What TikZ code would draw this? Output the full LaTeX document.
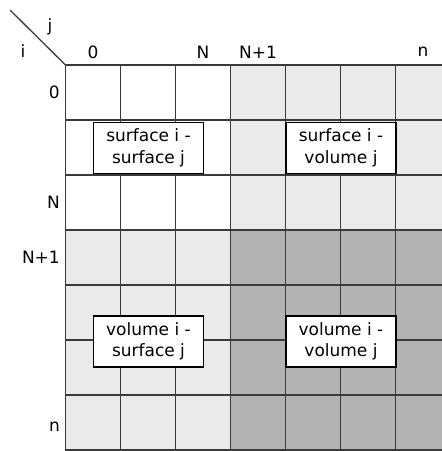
\documentclass[tikz,border=0pt]{standalone}
\usepackage{fontspec}
\setmainfont{DejaVu Sans}
\definecolor{lightcell}{HTML}{EAEAEA}
\definecolor{darkcell}{HTML}{B3B3B3}
\definecolor{gridline}{HTML}{3A3A3A}
\tikzset{
  gridstroke/.style={draw=gridline, line width=1.3pt},
  blocklabel/.style={draw=black, fill=white, line width=1.2pt, align=center,
    minimum width=110pt, minimum height=51pt, inner sep=2pt,
    font=\fontsize{17}{21.5}\selectfont},
  idxlabel/.style={font=\fontsize{17}{20}\selectfont, inner sep=0pt},
}
\begin{document}
\begin{tikzpicture}[x=1pt, y=-1pt]
  \useasboundingbox (0,0) rectangle (442,451);
  \begin{scope}
    \clip (0,0) rectangle (442,451);
    % the four blocks of the matrix
    \fill[white]     (65.5,65) rectangle (230.5,230);
    \fill[lightcell] (230.5,65) rectangle (450.5,230);
    \fill[lightcell] (65.5,230) rectangle (230.5,450);
    \fill[darkcell]  (230.5,230) rectangle (450.5,450);
    % cell grid
    \foreach \k in {0,...,7} {
      \draw[gridstroke] (65.5+55*\k,65) -- (65.5+55*\k,451);
      \draw[gridstroke] (65.5,65+55*\k) -- (451,65+55*\k);
    }
  \end{scope}
  % corner header
  \coordinate (diagstart) at (10,10);
  \coordinate (corner) at (65.5,65);
  \draw[line width=1.3pt, draw=gridline] (diagstart) -- (corner);
  \node[idxlabel] (jhead) at (50,27) {j};
  \node[idxlabel] (ihead) at (23,51) {i};
  % column indices
  \node[idxlabel] (c0)  at (93,52)    {0};
  \node[idxlabel] (cN)  at (203,52)   {N};
  \node[idxlabel] (cN1) at (258,52)   {N+1};
  \node[idxlabel] (cn)  at (423,52)   {n};
  % row indices
  \node[idxlabel, anchor=east] (r0)  at (60,92.5)  {0};
  \node[idxlabel, anchor=east] (rN)  at (60,202.5) {N};
  \node[idxlabel, anchor=east] (rN1) at (60,257.5) {N+1};
  \node[idxlabel, anchor=east] (rn)  at (60,427)   {n};
  % block captions
  \node[blocklabel] (ss) at (148.5,148)   {surface i -\\surface j};
  \node[blocklabel] (sv) at (341,148)     {surface i -\\volume j};
  \node[blocklabel] (vs) at (148.5,341.5) {volume i -\\surface j};
  \node[blocklabel] (vv) at (341,341.5)   {volume i -\\volume j};
\end{tikzpicture}
\end{document}
